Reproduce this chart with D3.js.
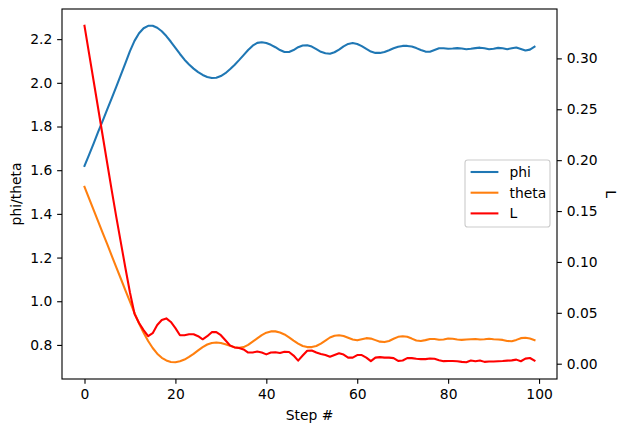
<!DOCTYPE html>
<html>
<head>
<meta charset="utf-8">
<script src="https://cdn.jsdelivr.net/npm/d3@7"></script>
<style>
  body { margin: 0; background: #fff; }
  svg { display: block; font-family: "DejaVu Sans", sans-serif; }
</style>
</head>
<body>
<svg id="chart" width="627" height="432"></svg>
<script>
// ── data ──────────────────────────────────────────────────────
const phi = [
  1.620, 1.670, 1.722, 1.775, 1.826, 1.878, 1.930, 1.983, 2.036, 2.090,
  2.145, 2.192, 2.227, 2.250, 2.261, 2.261, 2.252, 2.236, 2.214, 2.188,
  2.160, 2.132, 2.106, 2.084, 2.065, 2.049, 2.036, 2.027, 2.022, 2.023,
  2.031, 2.044, 2.062, 2.082, 2.104, 2.127, 2.150, 2.170, 2.183, 2.186,
  2.182, 2.174, 2.163, 2.150, 2.141, 2.141, 2.150, 2.163, 2.171, 2.172,
  2.166, 2.154, 2.142, 2.135, 2.133, 2.140, 2.152, 2.167, 2.178, 2.182,
  2.178, 2.168, 2.155, 2.143, 2.137, 2.137, 2.141, 2.149, 2.158, 2.165,
  2.169, 2.169, 2.166, 2.159, 2.150, 2.143, 2.142, 2.150, 2.158, 2.158,
  2.156, 2.157, 2.159, 2.157, 2.154, 2.156, 2.159, 2.161, 2.158, 2.154,
  2.156, 2.160, 2.158, 2.154, 2.158, 2.162, 2.155, 2.148, 2.152, 2.165
];
const theta = [
  1.524, 1.471, 1.418, 1.366, 1.313, 1.261, 1.208, 1.155, 1.103, 1.050,
  0.998, 0.946, 0.898, 0.856, 0.818, 0.786, 0.760, 0.741, 0.729, 0.722,
  0.721, 0.725, 0.733, 0.745, 0.759, 0.775, 0.790, 0.802, 0.809, 0.811,
  0.809, 0.803, 0.796, 0.789, 0.787, 0.790, 0.800, 0.815, 0.830, 0.845,
  0.856, 0.862, 0.862, 0.857, 0.848, 0.835, 0.820, 0.806, 0.795, 0.790,
  0.790, 0.795, 0.806, 0.820, 0.834, 0.842, 0.844, 0.841, 0.833, 0.825,
  0.821, 0.826, 0.831, 0.829, 0.822, 0.815, 0.813, 0.818, 0.828, 0.837,
  0.840, 0.837, 0.829, 0.820, 0.818, 0.822, 0.827, 0.827, 0.824, 0.825,
  0.829, 0.828, 0.825, 0.823, 0.825, 0.826, 0.827, 0.825, 0.826, 0.828,
  0.826, 0.825, 0.823, 0.818, 0.817, 0.823, 0.831, 0.833, 0.829, 0.822
];
const L = [
  0.332, 0.305, 0.278, 0.251, 0.224, 0.197, 0.170, 0.144, 0.119, 0.094,
  0.070, 0.049, 0.040, 0.033, 0.027, 0.030, 0.038, 0.043, 0.0445, 0.041,
  0.035, 0.028, 0.028, 0.029, 0.029, 0.027, 0.024, 0.027, 0.031, 0.031,
  0.028, 0.023, 0.018, 0.016, 0.0155, 0.014, 0.011, 0.011, 0.012, 0.011,
  0.0092, 0.011, 0.0112, 0.0105, 0.0118, 0.0115, 0.008, 0.003, 0.008, 0.0128,
  0.013, 0.011, 0.0095, 0.0085, 0.0068, 0.0085, 0.0102, 0.009, 0.006, 0.006,
  0.0085, 0.0085, 0.006, 0.0025, 0.006, 0.0065, 0.006, 0.006, 0.0055, 0.0028,
  0.0032, 0.0055, 0.0055, 0.0048, 0.0045, 0.0045, 0.0052, 0.0048, 0.0035, 0.0025,
  0.0026, 0.0026, 0.0024, 0.0018, 0.0015, 0.0032, 0.0024, 0.0032, 0.0018, 0.0022,
  0.0022, 0.0024, 0.0026, 0.003, 0.0033, 0.004, 0.0024, 0.005, 0.0056, 0.003
];
const steps = d3.range(phi.length);

const xTicks = [0, 20, 40, 60, 80, 100];
const leftTicks = [0.8, 1.0, 1.2, 1.4, 1.6, 1.8, 2.0, 2.2];
const rightTicks = [0.00, 0.05, 0.10, 0.15, 0.20, 0.25, 0.30];

const legendItems = [
  { label: "phi", color: "#1f77b4" },
  { label: "theta", color: "#ff7f0e" },
  { label: "L", color: "#ff0000" }
];

// ── layout (matplotlib-ish) ───────────────────────────────────
const FS = 13.89;
const box = { left: 62, right: 557, top: 9, bottom: 379 };

function padded(lo, hi) { const m = (hi - lo) * 0.05; return [lo - m, hi + m]; }

const x = d3.scaleLinear().domain(padded(0, steps.length - 1)).range([box.left, box.right]);
const yL = d3.scaleLinear()
  .domain(padded(d3.min(phi.concat(theta)), d3.max(phi.concat(theta))))
  .range([box.bottom, box.top]);
const yR = d3.scaleLinear().domain(padded(d3.min(L), d3.max(L))).range([box.bottom, box.top]);

const svg = d3.select("#chart");

const gPlot = svg.append("g");
const lineL = d3.line().x((d, i) => x(i)).y(d => yL(d));
const lineR = d3.line().x((d, i) => x(i)).y(d => yR(d));

gPlot.append("path").datum(phi).attr("d", lineL)
  .attr("fill", "none").attr("stroke", "#1f77b4").attr("stroke-width", 2.08)
  .attr("stroke-linejoin", "round").attr("stroke-linecap", "square");
gPlot.append("path").datum(theta).attr("d", lineL)
  .attr("fill", "none").attr("stroke", "#ff7f0e").attr("stroke-width", 2.08)
  .attr("stroke-linejoin", "round").attr("stroke-linecap", "square");
gPlot.append("path").datum(L).attr("d", lineR)
  .attr("fill", "none").attr("stroke", "#ff0000").attr("stroke-width", 2.08)
  .attr("stroke-linejoin", "round").attr("stroke-linecap", "square");

// axes
function styleAxis(g) {
  g.selectAll(".domain").remove();
  g.selectAll(".tick line").attr("stroke", "#000").attr("stroke-width", 1.11);
  g.selectAll(".tick text").attr("fill", "#000")
    .style("font-size", FS + "px").style("font-family", "DejaVu Sans, sans-serif");
}

svg.append("g").attr("transform", `translate(0,${box.bottom})`)
  .call(d3.axisBottom(x).tickValues(xTicks).tickFormat(d3.format("d"))
    .tickSizeInner(4.86).tickSizeOuter(0).tickPadding(4.86))
  .call(styleAxis)
  .selectAll(".tick text").attr("dy", "0.76em");

svg.append("g").attr("transform", `translate(${box.left},0)`)
  .call(d3.axisLeft(yL).tickValues(leftTicks).tickFormat(d3.format(".1f"))
    .tickSizeInner(4.86).tickSizeOuter(0).tickPadding(4.86))
  .call(styleAxis);

svg.append("g").attr("transform", `translate(${box.right},0)`)
  .call(d3.axisRight(yR).tickValues(rightTicks).tickFormat(d3.format(".2f"))
    .tickSizeInner(4.86).tickSizeOuter(0).tickPadding(4.86))
  .call(styleAxis);

// spines
svg.append("rect")
  .attr("x", box.left).attr("y", box.top)
  .attr("width", box.right - box.left).attr("height", box.bottom - box.top)
  .attr("fill", "none").attr("stroke", "#000").attr("stroke-width", 1.11);

// axis labels
svg.append("text").attr("x", (box.left + box.right) / 2).attr("y", 420)
  .attr("text-anchor", "middle").style("font-size", FS + "px").text("Step #");
svg.append("text")
  .attr("transform", `translate(21,${(box.top + box.bottom) / 2}) rotate(-90)`)
  .attr("text-anchor", "middle").style("font-size", FS + "px").text("phi/theta");
svg.append("text")
  .attr("transform", `translate(606,${(box.top + box.bottom) / 2}) rotate(90)`)
  .attr("text-anchor", "middle").style("font-size", FS + "px").text("L");

// legend
const lg = { x: 465, y: 160, w: 85, h: 67 };
const gLeg = svg.append("g");
gLeg.append("rect").attr("x", lg.x).attr("y", lg.y).attr("width", lg.w).attr("height", lg.h)
  .attr("rx", 2.8).attr("fill", "rgba(255,255,255,0.8)")
  .attr("stroke", "#cccccc").attr("stroke-width", 1.11);
legendItems.forEach((it, i) => {
  const cy = 172 + i * 20.7;
  gLeg.append("line").attr("x1", lg.x + 5.6).attr("x2", lg.x + 5.6 + 27.8)
    .attr("y1", cy).attr("y2", cy)
    .attr("stroke", it.color).attr("stroke-width", 2.08);
  gLeg.append("text").attr("x", lg.x + 5.6 + 27.8 + 11.1).attr("y", cy)
    .attr("dy", "0.36em").style("font-size", FS + "px").text(it.label);
});
</script>
</body>
</html>
